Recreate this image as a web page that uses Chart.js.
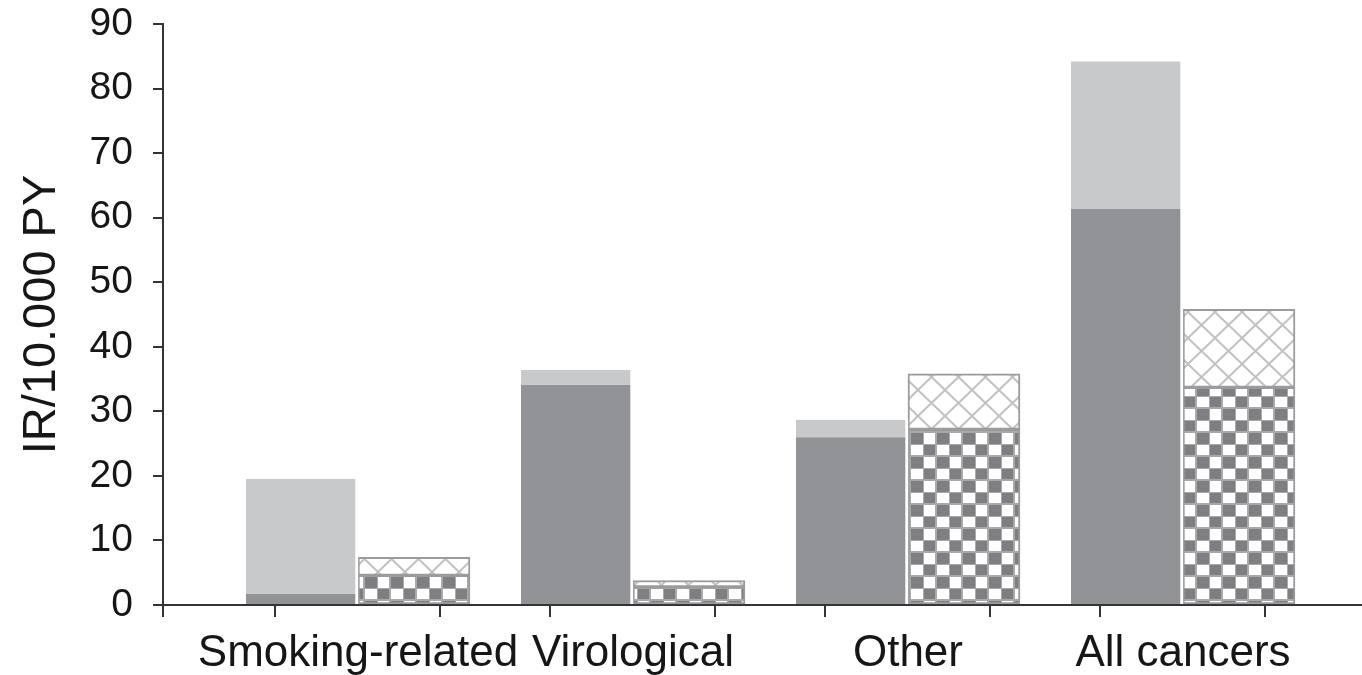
<!DOCTYPE html>
<html>
<head>
<meta charset="utf-8">
<script src="https://cdn.jsdelivr.net/npm/chart.js@4.4.1/dist/chart.umd.min.js"></script>
<style>
  html, body { margin: 0; padding: 0; background: #fff; }
  #wrap { width: 1362px; height: 675px; position: relative; }
</style>
</head>
<body>
<div id="wrap"><canvas id="c"></canvas></div>
<script>
// ---- data ----
const categories = ['Smoking-related', 'Virological', 'Other', 'All cancers'];
// left bar of each group (solid greys), stacked
const solidDark  = [1.7, 34.1, 26.0, 61.4];   // lower, dark grey part
const solidLight = [17.8, 2.3, 2.7, 22.8];    // upper, light grey part
// right bar of each group (patterned), stacked
const checkerPart = [4.6, 2.8, 27.2, 33.7];   // lower, checkerboard part
const crossPart   = [2.8, 1.0, 8.6, 12.1];    // upper, cross-hatched part
const yTicks = [0, 10, 20, 30, 40, 50, 60, 70, 80, 90];
const xTickOffsets = [-0.3, 0.3];             // tick marks around each category
const yTitle = 'IR/10.000 PY';

// ---- patterns ----
function checkerPattern() {
  const c = document.createElement('canvas');
  c.width = 26; c.height = 24;
  const g = c.getContext('2d');
  g.fillStyle = '#a9a9a9'; g.fillRect(0, 0, 26, 24);
  g.fillStyle = '#7e7f82';
  g.fillRect(1, 1, 12, 11); g.fillRect(14, 13, 11, 10);
  g.fillStyle = '#ffffff';
  g.fillRect(14, 1, 11, 11); g.fillRect(1, 13, 12, 10);
  return g.createPattern(c, 'repeat');
}
function crossPattern() {
  const c = document.createElement('canvas');
  c.width = 27; c.height = 26;
  const g = c.getContext('2d');
  g.fillStyle = '#ffffff'; g.fillRect(0, 0, 27, 26);
  g.strokeStyle = '#c2c2c4'; g.lineWidth = 2;
  g.beginPath();
  g.moveTo(0, 0); g.lineTo(27, 26);
  g.moveTo(27, 0); g.lineTo(0, 26);
  g.stroke();
  return g.createPattern(c, 'repeat');
}

const toPts = arr => arr.map((v, i) => ({ x: i, y: v }));
const X_MIN = -0.709, X_MAX = 3.651;

const font = 'Liberation Sans, Arial, Helvetica, sans-serif';
const ink = '#161618';
const solidBorder = { top: 0, bottom: 0, left: 0, right: 3 };

new Chart(document.getElementById('c'), {
  type: 'bar',
  data: {
    datasets: [
      { label: 'a1', data: toPts(solidDark),  stack: 'a', backgroundColor: '#929396', borderColor: '#ffffff', borderWidth: solidBorder, borderSkipped: false },
      { label: 'a2', data: toPts(solidLight), stack: 'a', backgroundColor: '#c8c9cb', borderColor: '#ffffff', borderWidth: solidBorder, borderSkipped: false },
      { label: 'b1', data: toPts(checkerPart), stack: 'b', backgroundColor: checkerPattern(), borderColor: '#9b9b9d', borderWidth: 2, borderSkipped: false },
      { label: 'b2', data: toPts(crossPart),   stack: 'b', backgroundColor: crossPattern(),   borderColor: '#9b9b9d', borderWidth: 2, borderSkipped: false }
    ]
  },
  options: {
    responsive: true,
    maintainAspectRatio: false,
    animation: false,
    devicePixelRatio: 1,
    barThickness: 112,
    layout: { padding: { left: 0, right: 0, top: 24, bottom: 0 } },
    plugins: { legend: { display: false }, tooltip: { enabled: false } },
    scales: {
      x: {
        type: 'linear',
        offset: false,
        min: X_MIN, max: X_MAX,
        afterBuildTicks: s => {
          const t = [{ value: X_MIN }];
          categories.forEach((_, i) => {
            t.push({ value: i + xTickOffsets[0] });
            t.push({ value: i });
            t.push({ value: i + xTickOffsets[1] });
          });
          s.ticks = t.filter(k => k.value >= X_MIN && k.value <= X_MAX);
        },
        afterFit: s => { s.height = 70; s.paddingLeft = 0; s.paddingRight = 0; },
        border: { display: true, color: '#333', width: 2 },
        grid: {
          offset: false,
          drawOnChartArea: false, drawTicks: true, tickLength: 12, lineWidth: 2,
          color: ctx => (ctx.tick && Number.isInteger(ctx.tick.value)) ? 'rgba(0,0,0,0)' : '#333'
        },
        ticks: {
          autoSkip: false, maxRotation: 0, padding: 10,
          color: ink, font: { family: font, size: 44 },
          callback: v => Number.isInteger(v) && categories[v] !== undefined ? categories[v] : ''
        }
      },
      y: {
        stacked: true,
        min: 0, max: 90,
        afterBuildTicks: s => { s.ticks = yTicks.map(v => ({ value: v })); },
        afterFit: s => { s.width = 163; s.paddingTop = 0; s.paddingBottom = 0; },
        border: { display: true, color: '#333', width: 2 },
        grid: { drawOnChartArea: false, drawTicks: true, tickLength: 10, lineWidth: 2, color: '#333' },
        ticks: { padding: 20, color: ink, font: { family: font, size: 39 } },
        title: { display: true, text: yTitle, color: ink, font: { family: font, size: 47 }, padding: { top: 14, bottom: 0 } }
      }
    }
  }
});
</script>
</body>
</html>
